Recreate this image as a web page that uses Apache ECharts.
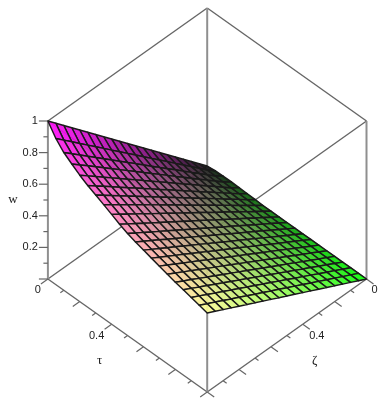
<!DOCTYPE html>
<html>
<head>
<meta charset="utf-8">
<style>
html,body{margin:0;padding:0;background:#fff}
#c{width:388px;height:401px;filter:blur(0.4px)}
</style>
<script src="https://cdn.jsdelivr.net/npm/echarts@6/dist/echarts.min.js"></script>
</head>
<body>
<div id="c"></div>
<script>
// grid coordinates along each horizontal axis
const tauGrid = [0,.05,.1,.15,.2,.25,.3,.35,.4,.45,.5,.55,.6,.65,.7,.75,.8,.85,.9,.95,1];
const zetaGrid = [0,.05,.1,.15,.2,.25,.3,.35,.4,.45,.5,.55,.6,.65,.7,.75,.8,.85,.9,.95,1];
// w[tau row][zeta column]
const wValues = [
[0,.05,.1,.15,.2,.25,.3,.35,.4,.45,.5,.55,.6,.65,.7,.75,.8,.85,.9,.95,1],
[.006,.046,.093,.139,.185,.231,.278,.324,.370,.416,.463,.509,.555,.601,.648,.694,.740,.786,.833,.879,.925],
[.008,.044,.087,.131,.174,.218,.262,.305,.349,.392,.436,.480,.523,.567,.610,.654,.698,.741,.785,.828,.872],
[.008,.042,.084,.125,.167,.209,.251,.292,.334,.376,.418,.459,.501,.543,.585,.626,.668,.710,.752,.793,.835],
[.007,.04,.08,.12,.16,.2,.24,.28,.32,.36,.4,.44,.48,.52,.56,.6,.64,.68,.72,.76,.8],
[.005,.039,.077,.116,.154,.193,.231,.270,.308,.347,.386,.424,.463,.501,.540,.578,.617,.655,.694,.732,.771],
[.003,.037,.075,.112,.149,.187,.224,.261,.298,.336,.373,.410,.448,.485,.522,.560,.597,.634,.671,.709,.746],
[0,.036,.072,.108,.144,.180,.216,.252,.288,.324,.361,.397,.433,.469,.505,.541,.577,.613,.649,.685,.721],
[0,.035,.070,.104,.139,.174,.209,.243,.278,.313,.348,.382,.417,.452,.487,.521,.556,.591,.626,.660,.695],
[0,.033,.067,.100,.134,.167,.200,.234,.267,.301,.334,.367,.401,.434,.468,.501,.534,.568,.601,.635,.668],
[0,.032,.065,.097,.129,.161,.194,.226,.258,.290,.323,.355,.387,.419,.452,.484,.516,.548,.581,.613,.645],
[0,.031,.063,.094,.126,.157,.188,.220,.251,.283,.314,.345,.377,.408,.440,.471,.502,.534,.565,.597,.628],
[0,.031,.061,.092,.122,.153,.184,.214,.245,.275,.306,.337,.367,.398,.428,.459,.490,.520,.551,.581,.612],
[0,.030,.060,.090,.119,.149,.179,.209,.239,.269,.299,.328,.358,.388,.418,.448,.478,.507,.537,.567,.597],
[0,.029,.058,.087,.116,.146,.175,.204,.233,.262,.291,.320,.349,.378,.407,.437,.466,.495,.524,.553,.582],
[0,.028,.057,.085,.113,.142,.170,.198,.227,.255,.284,.312,.340,.369,.397,.425,.454,.482,.510,.539,.567],
[0,.028,.055,.083,.110,.138,.166,.193,.221,.248,.276,.304,.331,.359,.386,.414,.442,.469,.497,.524,.552],
[0,.027,.054,.081,.108,.135,.162,.189,.216,.243,.270,.297,.324,.351,.378,.405,.432,.459,.486,.513,.540],
[0,.026,.053,.079,.105,.132,.158,.184,.211,.237,.264,.290,.316,.343,.369,.395,.422,.448,.474,.501,.527],
[0,.026,.051,.077,.103,.128,.154,.180,.205,.231,.257,.282,.308,.333,.359,.385,.410,.436,.462,.487,.513],
[0,.025,.05,.075,.1,.125,.15,.175,.2,.225,.25,.275,.3,.325,.35,.375,.4,.425,.45,.475,.5]
];
const axisTicks = [0,.1,.2,.3,.4,.5,.6,.7,.8,.9,1];
const wTickLabels = ['0.2','0.4','0.6','0.8','1'];
const horizontalTickLabels = ['0','0.4'];
const boxCorners = [[0,1,0],[1,1,0],[1,0,0],[0,0,0],[0,1,1],[1,1,1],[1,0,1],[0,0,1]];
const boxEdges = [[0,1],[1,2],[0,3],[2,3],[4,7],[6,7],[4,5],[5,6],[0,4],[1,5],[2,6],[3,7]];
const axisTitles = ['w','\u03c4','\u03b6'];

// view of the box on the page
const V = {x0:207.2, ux:159.3, y0:166, uy:113, uw:158};
const px = (t,z,w)=>[V.x0+V.ux*(t-z), V.y0+V.uy*(t+z)-V.uw*w];
const GREY_D='#666', GREY_V='#8f8f8f', LINE='#1a1a1a';

// cells ordered back to front
const cells=[];
for(let s=0;s<=38;s++)for(let i=0;i<20;i++){const j=s-i;if(j>=0&&j<20)cells.push([i,j]);}

function rgb(t,z,w){
  const c=v=>Math.round(255*Math.pow(Math.min(1,Math.max(0,v)),0.78));
  return 'rgba('+c(z)+','+c(t)+','+c(w)+',0.92)';
}
const chart=echarts.init(document.getElementById('c'),null,{renderer:'canvas'});
const textStyle=(text,x,y,align,font)=>({type:'text',silent:true,style:{text:text,x:x,y:y,align:align,verticalAlign:'middle',fill:'#222',font:font}});
const SANS='11px "Liberation Sans"';
const SERIF='13px "Liberation Serif"';

chart.setOption({
  animation:false,
  backgroundColor:'#fff',
  grid:{left:0,right:0,top:0,bottom:0},
  xAxis:{type:'value',min:0,max:388,show:false},
  yAxis:{type:'value',min:0,max:401,inverse:true,show:false},
  series:[
    {type:'custom',coordinateSystem:'cartesian2d',silent:true,z:1,
     data:boxEdges,
     renderItem:(p,api)=>{
       const e=boxEdges[p.dataIndex],a=boxCorners[e[0]],b=boxCorners[e[1]];
       const A=api.coord(px(a[0],a[1],a[2])),B=api.coord(px(b[0],b[1],b[2]));
       const vertical=Math.abs(A[0]-B[0])<1;
       return {type:'line',shape:{x1:A[0],y1:A[1],x2:B[0],y2:B[1]},
         style:{stroke:vertical?GREY_V:GREY_D,lineWidth:vertical?2:1.4}};
     }},
    {type:'custom',coordinateSystem:'cartesian2d',silent:true,z:2,
     data:axisTicks,
     renderItem:(p,api)=>{
       const v=axisTicks[p.dataIndex],major=p.dataIndex%2===0;
       const kids=[];
       const f=major?1:0.5;
       let A=api.coord(px(0,1,v));
       kids.push({type:'line',shape:{x1:A[0],y1:A[1],x2:A[0]-9*f,y2:A[1]},style:{stroke:GREY_D,lineWidth:1.2}});
       A=api.coord(px(v,1,0));
       kids.push({type:'line',shape:{x1:A[0],y1:A[1],x2:A[0]-7*f,y2:A[1]+5*f},style:{stroke:GREY_D,lineWidth:1.2}});
       A=api.coord(px(1,v,0));
       kids.push({type:'line',shape:{x1:A[0],y1:A[1],x2:A[0]+7*f,y2:A[1]+5*f},style:{stroke:GREY_D,lineWidth:1.2}});
       return {type:'group',children:kids};
     }},
    {type:'custom',coordinateSystem:'cartesian2d',silent:true,z:3,
     data:cells,
     renderItem:(p,api)=>{
       const c=cells[p.dataIndex],i=c[0],j=c[1];
       const corners=[[i,j],[i+1,j],[i+1,j+1],[i,j+1]];
       let st=0,sz=0,sw=0;
       const pts=corners.map(q=>{
         const t=tauGrid[q[0]],z=zetaGrid[q[1]],w=wValues[q[0]][q[1]];
         st+=t;sz+=z;sw+=w;
         return api.coord(px(t,z,w));
       });
       return {type:'polygon',shape:{points:pts},
         style:{fill:rgb(st/4,sz/4,sw/4),stroke:LINE,lineWidth:1.45,lineJoin:'round'}};
     }},
    {type:'custom',coordinateSystem:'cartesian2d',silent:true,z:4,
     data:wTickLabels,
     renderItem:(p,api)=>{
       const s=wTickLabels[p.dataIndex],A=api.coord(px(0,1,parseFloat(s)));
       return textStyle(s,A[0]-10,A[1],'right',SANS);
     }},
    {type:'custom',coordinateSystem:'cartesian2d',silent:true,z:4,
     data:horizontalTickLabels,
     renderItem:(p,api)=>{
       const s=horizontalTickLabels[p.dataIndex],v=parseFloat(s);
       const A=api.coord(px(v,1,0)),B=api.coord(px(1,v,0));
       const dx=v===0?10:15, dy=v===0?11:12;
       return {type:'group',children:[
         textStyle(s,A[0]-dx,A[1]+dy,'center',SANS),
         textStyle(s,B[0]+dx-(v===0?2:1),B[1]+dy,'center',SANS)
       ]};
     }},
    {type:'custom',coordinateSystem:'cartesian2d',silent:true,z:4,
     data:axisTitles,
     renderItem:(p,api)=>{
       const d=[[0,1,0.5,-35,0],[0.4,1,0,-12,36],[1,0.4,0,12,36]][p.dataIndex];
       const A=api.coord(px(d[0],d[1],d[2]));
       return textStyle(axisTitles[p.dataIndex],A[0]+d[3],A[1]+d[4],'center',SERIF);
     }}
  ]
});
</script>
</body>
</html>
